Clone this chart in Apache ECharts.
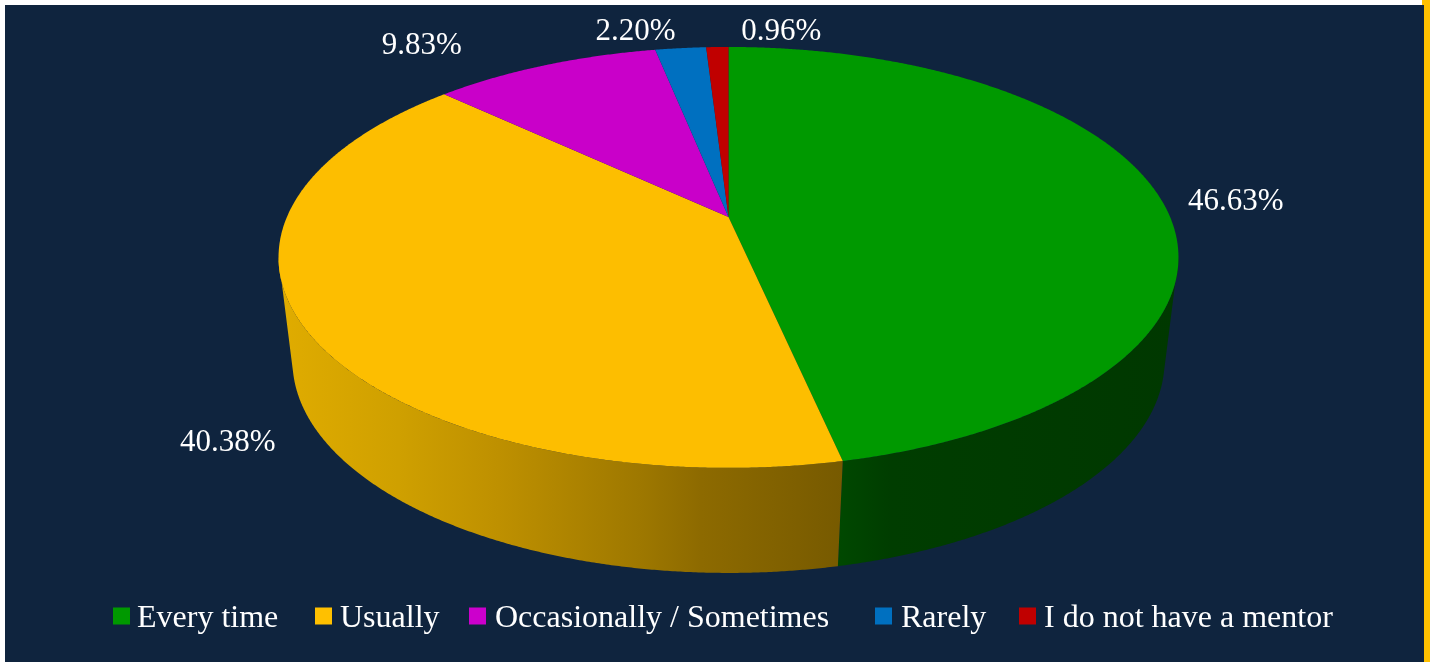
<!DOCTYPE html>
<html><head><meta charset="utf-8">
<script src="https://cdn.jsdelivr.net/npm/echarts@6/dist/echarts.min.js"></script>
<style>
html,body{margin:0;padding:0;background:#fff;overflow:hidden}
#panel{position:absolute;left:5px;top:5px;width:1419px;height:657px;background:#0F243E}
#strip{position:absolute;left:1422px;top:0;width:8px;height:662px;background:#FFC000}
#chart{position:absolute;left:0;top:0;width:1430px;height:662px}
</style></head><body>
<div id="strip"></div><div id="panel"></div><div id="chart"></div>
<script>
const categories = ['Every time','Usually','Occasionally / Sometimes','Rarely','I do not have a mentor'];
const values = [46.63,40.38,9.83,2.20,0.96];
const tickLabels = ['46.63%','40.38%','9.83%','2.20%','0.96%'];
const colors = ['#009900','#FDBE00','#C900C9','#0070C0','#C00000'];
const legendColors = ['#009900','#FFC000','#CC00CC','#0070C0','#C00000'];
const wallStops = [
  [[0,'#004800'],[0.15,'#003D00'],[1,'#003800']],
  [[0,'#E0AC00'],[0.21,'#CFA000'],[0.39,'#BE9000'],[0.64,'#9E7800'],[0.75,'#8D6A00'],[1,'#775A00']],
  null,null,null];
const wallRanges = [[840,1178],[280,842]];
const labelOffsets = [[77,6],[-76,116],[-123,-19],[-45,-16],[64,-15]];
const legendLeft = [113,315,469,875,1019];
const legendTextPad = [2,3,4,4,3];

const topFace = {cx:728.5, cy:217, a:441.6, b:202.7, p:0.192};
const botFace = {cx:728.5, cy:322.8, a:428.9, b:205.1, p:0.18};
const visFrom = Math.acos(-topFace.p), visTo = 2*Math.PI - visFrom;
const botFrom = Math.acos(-0.2344), botTo = 2*Math.PI - botFrom;
function proj(f, th, r){
  r = r===undefined?1:r;
  const u=Math.sin(th)*r, v=-Math.cos(th)*r, d=1-f.p*v;
  return [f.cx+f.a*u/d, f.cy+f.b*v/d];
}
function arc(f, a0, a1){
  const n=Math.max(2,Math.ceil(Math.abs(a1-a0)/0.005)), pts=[];
  for(let i=0;i<=n;i++) pts.push(proj(f,a0+(a1-a0)*i/n));
  return pts;
}
const total = values.reduce((s,v)=>s+v,0);
function renderSlice(idx){
  return function(params, api){
    const v = api.value(0);
    let before=0; for(let i=0;i<idx;i++) before+=values[i];
    const a0=before/total*2*Math.PI, a1=(before+v)/total*2*Math.PI, mid=(a0+a1)/2;
    const children=[];
    if(wallStops[idx]){
      const s=Math.max(a0,visFrom), e=Math.min(a1,visTo);
      const s2=Math.max(a0,botFrom), e2=Math.min(a1,botTo);
      if(e>s){
        const poly=arc(topFace,s,e).concat(arc(botFace,s2,e2).reverse());
        const r=wallRanges[idx];
        children.push({type:'polygon',shape:{points:poly},
          style:{fill:new echarts.graphic.LinearGradient(r[0],0,r[1],0,
            wallStops[idx].map(p=>({offset:p[0],color:p[1]})),true)}});
      }
    }
    const top=[proj(topFace,0,0)].concat(arc(topFace,a0,a1));
    children.push({type:'polygon',shape:{points:top},style:{fill:colors[idx]}});
    const rim=proj(topFace,mid);
    children.push({type:'text',z2:10,x:rim[0]+labelOffsets[idx][0],y:rim[1]+labelOffsets[idx][1],
      style:{text:tickLabels[idx],fill:'#fff',font:'31px "Liberation Serif"',align:'center',verticalAlign:'middle'}});
    return {type:'group',children};
  };
}
const chart=echarts.init(document.getElementById('chart'),null,{renderer:'canvas'});
chart.setOption({
  animation:false,
  backgroundColor:'transparent',
  legend:categories.map((c,i)=>({
    data:[c],left:legendLeft[i],top:603,padding:0,
    icon:'path://M0,0H17V17H0Z M0,23H0.01V23Z',itemWidth:17,itemHeight:23,selectedMode:false,
    textStyle:{color:'#fff',fontFamily:'"Liberation Serif"',fontSize:32,padding:[0,0,0,legendTextPad[i]]}
  })),
  series:categories.map((c,i)=>({
    type:'custom',name:c,coordinateSystem:'none',silent:true,z:i===0?2:(i===1?3:4),
    itemStyle:{color:legendColors[i]},
    data:[[values[i]]],
    renderItem:renderSlice(i)
  }))
});
</script></body></html>
